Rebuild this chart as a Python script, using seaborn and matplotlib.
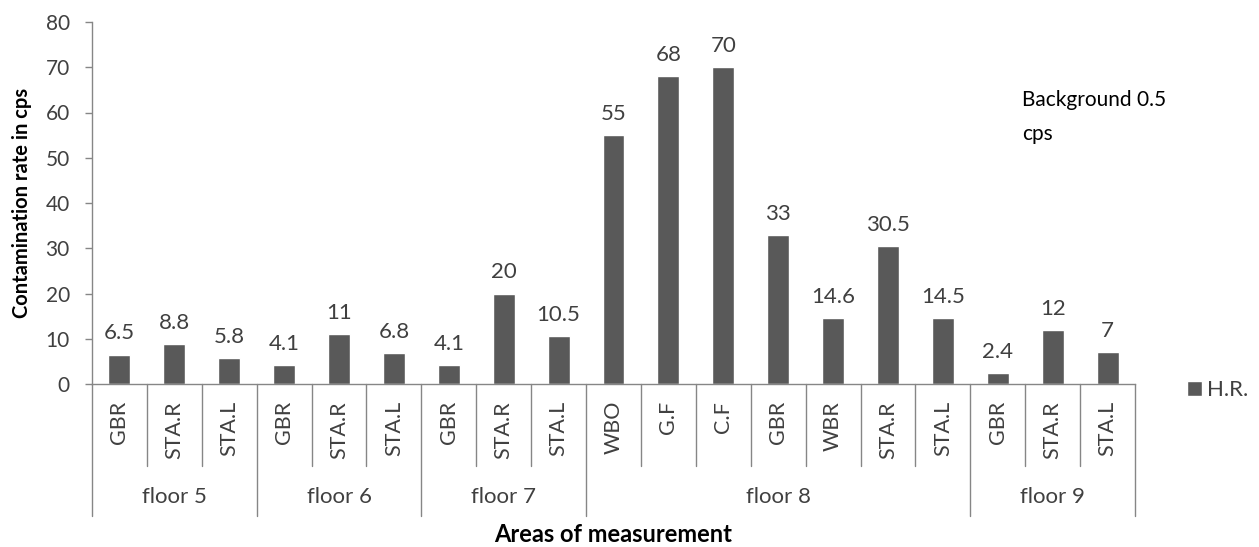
import matplotlib
matplotlib.use("Agg")
import matplotlib.pyplot as plt
import matplotlib.transforms as mtransforms
import seaborn as sns
import pandas as pd

# ---- data ----
floors = ["floor 5", "floor 6", "floor 7", "floor 8", "floor 9"]
floor_areas = [
    ["GBR", "STA.R", "STA.L"],
    ["GBR", "STA.R", "STA.L"],
    ["GBR", "STA.R", "STA.L"],
    ["WBO", "G.F", "C.F", "GBR", "WBR", "STA.R", "STA.L"],
    ["GBR", "STA.R", "STA.L"],
]
hr_values = [6.5, 8.8, 5.8,
             4.1, 11, 6.8,
             4.1, 20, 10.5,
             55, 68, 70, 33, 14.6, 30.5, 14.5,
             2.4, 12, 7]
series_name = "H.R."
y_ticks = [0, 10, 20, 30, 40, 50, 60, 70, 80]

areas = [a for grp in floor_areas for a in grp]
floor_col = [f for f, grp in zip(floors, floor_areas) for _ in grp]
df = pd.DataFrame({"key": [f"{i}" for i in range(len(areas))],
                   "area": areas, "floor": floor_col, "value": hr_values})

sns.set_theme(style="white")
plt.rcParams["font.family"] = ["Lato", "DejaVu Sans"]

W, H = 1259, 547
fig = plt.figure(figsize=(W / 100, H / 100), dpi=100)
x0, x1, y0, y1 = 92, 1135, 384, 22
ax = fig.add_axes([x0 / W, (H - y0) / H, (x1 - x0) / W, (y0 - y1) / H])

bar_color = "#595959"
axis_color = "#868686"
text_color = "#404040"

sns.barplot(data=df, x="key", y="value", order=list(df["key"]), color=bar_color,
            width=0.4, ax=ax, label=series_name, saturation=1)

ax.set_xlim(-0.5, len(areas) - 0.5)
ax.set_ylim(0, 80)
ax.set_yticks(y_ticks)
ax.set_yticklabels([str(t) for t in y_ticks], fontsize=15, color=text_color)
ax.tick_params(axis="y", which="major", left=True, length=5, width=1, color=axis_color, pad=11)
ax.tick_params(axis="x", bottom=False, labelbottom=False)
for s in ["top", "right"]:
    ax.spines[s].set_visible(False)
for s in ["left", "bottom"]:
    ax.spines[s].set_color(axis_color)
    ax.spines[s].set_linewidth(1)

ax.set_xlabel("")
ax.set_ylabel("Contamination rate in cps", fontsize=14.5, fontweight="bold", color="black")
ax.yaxis.set_label_coords((32 - x0) / (x1 - x0), 0.5)

# value labels
ax.bar_label(ax.containers[0], labels=[f"{v:g}" for v in hr_values],
             padding=8, fontsize=16, color=text_color)

# multi-level category axis
trans = mtransforms.blended_transform_factory(ax.transData, ax.transAxes)
ph = (y0 - y1)
cat_sep_bottom = -(466 - y0) / ph
grp_sep_bottom = -(516 - y0) / ph
cat_label_top = -(401 - y0) / ph
floor_label_y = -(497 - y0) / ph

idx = 0
for f, grp in zip(floors, floor_areas):
    start = idx
    ax.plot([start - 0.5, start - 0.5], [0, grp_sep_bottom], transform=trans,
            color=axis_color, lw=1, clip_on=False)
    for j, a in enumerate(grp):
        if j > 0:
            ax.plot([idx - 0.5, idx - 0.5], [0, cat_sep_bottom], transform=trans,
                    color=axis_color, lw=1, clip_on=False)
        ax.text(idx, cat_label_top, a, transform=trans, rotation=90,
                ha="center", va="top", fontsize=15.5, color=text_color)
        idx += 1
    ax.text((start + idx - 1) / 2, floor_label_y, f, transform=trans,
            ha="center", va="center", fontsize=16, color=text_color)
ax.plot([idx - 0.5, idx - 0.5], [0, grp_sep_bottom], transform=trans,
        color=axis_color, lw=1, clip_on=False)

fig.text((x0 + x1) / 2 / W, 1 - 535 / H, "Areas of measurement", ha="center", va="center",
         fontsize=17, fontweight="bold", color="black")

# annotation
fig.text(1022 / W, 1 - 100 / H, "Background 0.5", ha="left", va="center",
         fontsize=15, color="black")
fig.text(1022 / W, 1 - 134 / H, "cps", ha="left", va="center",
         fontsize=15, color="black")

# legend
leg = ax.legend(loc="center left", bbox_to_anchor=(1.05, -0.017), frameon=False,
                handlelength=0.65, handleheight=0.65, handletextpad=0.25,
                borderaxespad=0, borderpad=0, fontsize=16)
for t in leg.get_texts():
    t.set_color(text_color)

fig.savefig("out.png", dpi=100)
